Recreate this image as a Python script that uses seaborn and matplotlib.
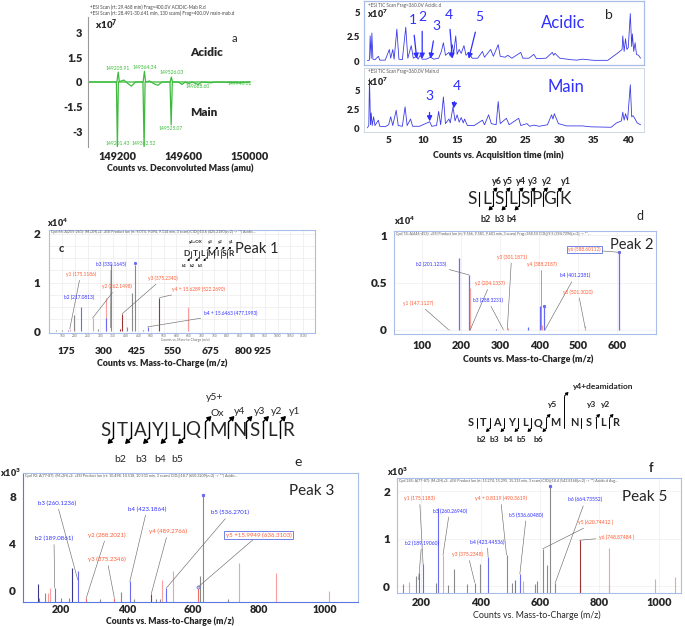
import numpy as np
import pandas as pd
import matplotlib
matplotlib.use("Agg")
import matplotlib.pyplot as plt
from matplotlib import font_manager
import seaborn as sns

# ---------------- data ----------------
# a: deconvoluted mass mirror plot (acidic up, main down)
a_acid_mass = [149024, 149198, 149206, 149213, 149356, 149364, 149371, 149519, 149526, 149533, 150000]
a_acid_int = [0, 0, 0.6, 0, 0, 0.65, 0, 0, 0.3, 0, 0]
a_main_mass = [149024, 149195, 149201, 149207, 149240, 149265, 149285, 149310, 149355, 149362, 149368,
               149395, 149420, 149445, 149470, 149518, 149525, 149532, 149570, 149590, 149610, 149630,
               149650, 149688, 149710, 149760, 149800, 149940, 150000]
a_main_int = [0, 0, -3.95, 0, 0.12, -0.1, -0.25, 0, 0, -3.95, 0,
              0.06, -0.1, -0.2, 0, 0, -2.6, 0, 0, -0.15, 0, -0.1,
              0, -0.15, 0, -0.05, 0, -0.05, 0]
a_up_labels = ["149205.91", "149364.34", "149526.03"]
a_up_mass = [149206, 149364, 149526]
a_dn_labels = ["149201.43", "149362.52", "149525.07", "149688.60", "149940.62"]
a_dn_mass = [149201, 149362, 149525, 149688, 149940]
a_yticks = [-3, -1.5, 0, 1.5, 3]
a_xticks = [149200, 149600, 150000]

# b: total ion chromatograms (x10^7)
b_acid_t = [1.9, 2.2, 2.3, 2.45, 2.55, 2.7, 3.0, 3.5, 3.7, 4.5, 5.1, 5.3, 5.6, 5.8, 6.2, 6.5, 7.0, 7.5, 7.8,
            8.3, 8.6, 9.1, 9.3, 9.6, 9.9, 10.5, 11.1, 11.6, 12.3, 12.7, 13.0, 13.3, 13.8, 14.0, 14.3, 14.5,
            14.8, 15.0, 15.3, 15.6, 16.0, 16.3, 16.7, 17.2, 18.0, 18.7, 19.0, 19.9, 20.3, 21.0, 21.3, 22.0,
            22.4, 23.0, 24.3, 24.6, 25.5, 26.2, 26.6, 28.0, 28.9, 29.1, 29.3, 30.0, 31.6, 32.5, 33.3, 34.0,
            35.0, 37.0, 38.4, 39.1, 39.2, 39.4, 39.6, 39.8, 40.0, 40.3, 40.5, 40.6, 40.8, 41.0, 41.2, 41.5, 41.8]
b_acid_i = [0.05, 0.1, 2.6, 0.3, 2.9, 0.2, 0.15, 0.5, 0.1, 0.1, 1.2, 0.3, 1.2, 0.2, 3.3, 0.2, 0.15, 3.5, 0.3,
            1.6, 0.3, 0.5, 0.2, 0.6, 0.2, 0.2, 0.4, 0.2, 0.3, 1.0, 1.9, 0.6, 0.9, 0.5, 1.7, 0.8,
            2.6, 0.7, 1.2, 0.8, 1.6, 0.6, 0.9, 0.3, 0.3, 1.0, 0.4, 1.2, 0.5, 1.7, 0.5, 0.4,
            0.6, 0.3, 0.9, 0.3, 0.3, 0.7, 0.25, 0.3, 0.9, 0.6, 0.8, 0.3, 0.15, 0.1, 0.2, 0.15,
            0.08, 0.08, 0.8, 1.2, 2.6, 1.0, 2.3, 1.2, 1.4, 4.9, 1.5, 2.8, 1.0, 1.9, 0.7, 0.6, 0.3]
b_main_t = [1.9, 2.1, 2.2, 2.35, 2.45, 2.6, 2.8, 3.0, 3.5, 3.7, 4.5, 5.0, 5.3, 5.6, 6.1, 6.4, 7.0, 7.4, 7.7,
            8.2, 8.5, 9.5, 11.0, 11.3, 12.0, 12.3, 12.6, 13.0, 13.3, 13.8, 14.0, 14.4, 14.7, 15.0, 15.3,
            15.6, 15.9, 16.1, 16.5, 17.5, 18.7, 19.0, 19.6, 20.0, 20.7, 21.0, 21.3, 22.2, 22.6, 24.0, 24.3,
            25.2, 25.6, 26.2, 27.0, 28.2, 28.8, 29.0, 29.2, 29.8, 31.0, 33.3, 34.5, 37.5, 38.3, 39.0, 39.2,
            39.4, 39.6, 39.9, 40.3, 40.5, 40.7, 41.0, 41.3, 41.8]
b_main_i = [0.05, 0.35, 6.5, 0.45, 2.0, 0.35, 1.5, 0.35, 1.05, 0.25, 0.2, 0.45, 1.5, 0.35, 2.35, 0.35, 0.25, 2.8, 0.35,
            1.2, 0.25, 0.25, 0.85, 0.25, 0.35, 2.2, 0.45, 4.1, 0.6, 1.2, 0.7, 2.8, 0.95, 1.75, 0.8,
            1.4, 0.7, 1.2, 0.35, 0.35, 1.05, 0.45, 1.75, 0.6, 0.45, 3.5, 0.6, 1.3, 0.45, 1.3, 0.35,
            0.6, 0.25, 0.4, 0.25, 0.45, 1.75, 1.2, 1.9, 0.6, 0.3, 0.3, 0.18, 0.12, 0.7, 0.95, 2.1,
            1.05, 1.9, 1.05, 5.7, 1.5, 1.65, 1.2, 0.7, 0.45]
b_acid_marks = ["1", "2", "3", "4", "5"]
b_acid_mark_t = [9.1, 9.9, 11.1, 14.3, 16.7]
b_main_marks = ["3", "4"]
b_main_mark_t = [11.0, 14.5]
b_xticks = [5, 10, 15, 20, 25, 30, 35, 40]

# c: Peak 1 MS/MS (x10^4)
c_gray_mz = [126, 150, 195, 290, 340, 404, 426, 435]
c_gray_h = [0.03, 0.03, 0.33, 0.05, 1.38, 0.09, 0.78, 1.37]
c_lred_mz = [179, 269, 321, 646]
c_lred_h = [0.05, 0.27, 0.68, 0.49]
c_blue_mz = [173, 223, 323, 470, 486]
c_blue_h = [0.02, 0.5, 0.28, 0.02, 0.09]
c_dred_mz = [379, 386, 533]
c_dred_h = [0.04, 0.36, 0.69]
c_inner_ticks = list(range(150, 1101, 50))
c_big_tick_pos = [166, 313, 446, 586, 733, 866, 942]
c_big_tick_lab = ["175", "300", "425", "550", "675", "800", "925"]

# d: Peak 2 MS/MS (x10^4)
d_blue_mz = [194, 220, 288, 371, 402, 412, 605]
d_blue_h = [0.76, 0.58, 0.01, 0.03, 0.25, 0.25, 0.82]
d_red_mz = [167, 222, 319, 406, 518]
d_red_h = [0.01, 0.44, 0.02, 0.05, 0.04]
d_xticks = [100, 200, 300, 400, 500, 600]

# e: Peak 3 MS/MS (x10^3)
e_gray_mz = [134, 151, 199, 224, 318, 380, 422, 488, 498, 621, 629, 705]
e_gray_h = [0.3, 0.8, 0.35, 0.35, 0.25, 0.85, 0.25, 0.25, 0.25, 2.2, 9.1, 0.25]
e_navy_mz = [128, 232]
e_navy_h = [1.5, 2.9]
e_blue_mz = [180, 250, 408, 519]
e_blue_h = [1.2, 2.6, 1.75, 1.2]
e_lred_mz = [161, 166, 505, 539, 740, 852, 1011]
e_lred_h = [0.8, 1.2, 1.85, 2.65, 3.3, 2.5, 0.9]
e_red_mz = [276, 361, 616]
e_red_h = [0.35, 0.35, 1.2]
e_dred_mz = [473]
e_dred_h = [0.7]
e_ytick_pos = [0.94, 4.94, 8.94]
e_ytick_lab = ["0", "4", "8"]
e_xticks = [200, 400, 600, 800, 1000]

# f: Peak 5 MS/MS (x10^3)
f_gray_mz = [138, 181, 251, 290, 309, 354, 380, 399, 487, 504, 583, 589, 609, 622, 632, 651, 733, 834]
f_gray_h = [0.18, 0.35, 0.21, 0.16, 0.51, 0.19, 0.22, 0.6, 0.8, 0.2, 0.18, 0.25, 0.93, 0.58, 2.25, 0.21, 0.23, 0.16]
f_lred_mz = [157, 273, 544, 834, 989, 1056]
f_lred_h = [0.23, 0.8, 0.25, 0.95, 0.3, 0.34]
f_blue_mz = [191, 206, 257, 425, 515, 532]
f_blue_h = [0.43, 0.62, 1.79, 0.76, 0.28, 0.4]
f_dred_mz = [733]
f_dred_h = [1.11]
f_ytick_pos = [0.14, 1.14, 2.14]
f_ytick_lab = ["0", "1", "2"]
f_xticks = [200, 400, 600, 800, 1000]

# peptide sequences
seq_c = list("DTLMISR")
seq_d = list("SLSLSPGK")
seq_e = list("STAYLQMNSLR")
seq_f = list("STAYLQMNSLR")

# ---------------- style ----------------
sns.set_style("white")


def has_bold(name):
    for f in font_manager.fontManager.ttflist:
        if f.name != name:
            continue
        w = f.weight
        if isinstance(w, str):
            w = font_manager.weight_dict.get(w, 400)
        if w >= 600:
            return True
    return False


family = "DejaVu Sans"
for cand in ["Lato", "Roboto", "Noto Sans", "Open Sans", "Liberation Sans"]:
    if has_bold(cand):
        family = cand
        break
plt.rcParams["font.family"] = [family, "DejaVu Sans"]
plt.rcParams["mathtext.default"] = "regular"

GREEN = "#3dbb3d"
TIC = "#3c3ce6"
BTXT = "#2f2fff"
RTXT = "#ff5a32"
GRAY = "#8a8a8a"
LRED = "#f7a0a0"
BBAR = "#6a6af2"
DRED = "#a03535"
NAVY = "#3a3a8c"
FRAME = "#a8bde8"
LINE = "#6f6f6f"
TW = "heavy"   # weight of the big tick labels

W, H = 685, 626
fig = plt.figure(figsize=(W / 100, H / 100), dpi=100)
over = fig.add_axes([0, 0, 1, 1], zorder=10)
over.set_xlim(0, W)
over.set_ylim(H, 0)
over.axis("off")
over.patch.set_alpha(0)


def add_ax(l, t, r, b):
    return fig.add_axes([l / W, 1 - b / H, (r - l) / W, (b - t) / H])


def ftext(x, y, s, **kw):
    kw.setdefault("ha", "center")
    kw.setdefault("va", "center")
    over.text(x, y, s, **kw)


def sticks(ax, mz, h, color, lw=0.8):
    ax.vlines(mz, 0, h, color=color, lw=lw)


def frame(ax, color=FRAME, lw=0.8):
    for s in ax.spines.values():
        s.set_visible(True)
        s.set_color(color)
        s.set_linewidth(lw)


def lab(ax, s, xy, xytext, color, fs, box=False):
    kw = dict(arrowprops=dict(arrowstyle="-", color=LINE, lw=0.45, shrinkA=0, shrinkB=0))
    if box:
        kw["bbox"] = dict(boxstyle="square,pad=0.25", fc="white", ec="#5a6ee0", lw=0.6)
    ax.annotate(s, xy=xy, xytext=xytext, color=color, fontsize=fs, ha="center", va="center", **kw)


def frag_arrow(x0, y0, dx, dy, lw, hw):
    over.annotate("", xy=(x0 + dx, y0 + dy), xytext=(x0, y0),
                  arrowprops=dict(arrowstyle=f"-|>,head_width={hw},head_length={hw * 1.6}",
                                  color="black", lw=lw, shrinkA=0, shrinkB=0))


def sequence(letters, xs, y, fs, hh, b_idx, y_idx, d, lw=0.8, hw=0.12, weight="normal", tall=None):
    for ch, x in zip(letters, xs):
        ftext(x, y, ch, fontsize=fs, fontweight=weight)
    seps = [(xs[i] + xs[i + 1]) / 2 for i in range(len(xs) - 1)]
    for i, sx in enumerate(seps):
        top = y - hh
        if tall is not None and i == tall[0]:
            top = tall[1]
        over.plot([sx, sx], [top, y + hh], color="black", lw=lw)
        if i in b_idx:
            frag_arrow(sx, y + hh, -d, d, lw, hw)
        if i in y_idx:
            frag_arrow(sx, top, d, -d, lw, hw)


bold = dict(fontweight="bold")

# ---------------- panel a ----------------
ax = add_ax(88, 17, 250, 147)
sns.lineplot(x=a_main_mass, y=a_main_int, ax=ax, color=GREEN, lw=0.9)
sns.lineplot(x=a_acid_mass, y=a_acid_int, ax=ax, color=GREEN, lw=0.9)
ax.set_xlim(149024, 150000)
ax.set_ylim(-3.95, 3.95)
for s in ["top", "right", "bottom"]:
    ax.spines[s].set_visible(False)
ax.spines["left"].set_color("#9a9a9a")
ax.set_yticks(a_yticks)
ax.set_yticklabels([f"{v:g}" for v in a_yticks], fontsize=7.8, fontweight=TW)
ax.set_xticks(a_xticks)
ax.set_xticklabels([str(v) for v in a_xticks], fontsize=7.8, fontweight=TW)
ax.tick_params(axis="both", length=0, pad=4)
ax.tick_params(axis="x", pad=3)
for s, m, y in zip(a_up_labels, a_up_mass, [0.85, 0.9, 0.55]):
    ax.text(m, y, s, color=GREEN, fontsize=3.6, ha="center", va="center")
for s, m, y in zip(a_dn_labels, a_dn_mass, [-3.75, -3.75, -2.8, -0.3, -0.1]):
    ax.text(m, y, s, color=GREEN, fontsize=3.6, ha="center", va="center")
ftext(90, 7, "+ESI Scan (rt: 29.468 min) Frag=400.0V ACIDIC-Mab R.d", fontsize=3.3, ha="left", color="#444444")
ftext(90, 13, "+ESI Scan (rt: 28.491-30.641 min, 130 scans) Frag=400.0V main-mab.d", fontsize=3.3, ha="left", color="#444444")
ftext(95, 25, "x10$^{7}$", fontsize=7, ha="left", fontweight=TW)
ftext(234, 39, "a", fontsize=8)
ftext(207, 52, "Acidic", fontsize=8.5, fontweight=TW)
ftext(204, 112, "Main", fontsize=8.5, fontweight=TW)
ftext(180, 169, "Counts vs. Deconvoluted Mass (amu)", fontsize=6.4, fontweight=TW)

# ---------------- panel b ----------------
axu = add_ax(364, 1, 644, 65)
axl = add_ax(364, 68, 644, 132)
sns.lineplot(x=b_acid_t, y=b_acid_i, ax=axu, color=TIC, lw=0.6)
sns.lineplot(x=b_main_t, y=b_main_i, ax=axl, color=TIC, lw=0.6)
for a_ in [axu, axl]:
    a_.set_xlim(1.4, 42.3)
    a_.set_yticks([0, 2.5, 5])
    a_.set_yticklabels(["0", "2.5", "5"], fontsize=6.8, fontweight=TW)
    a_.tick_params(length=0, pad=3)
axu.set_ylim(-0.4, 6.2)
axl.set_ylim(-0.5, 7.9)
frame(axu, FRAME, 0.9)
frame(axl, "#d0d6e2", 0.7)
axu.set_xticks([])
axl.set_xticks(b_xticks)
axl.set_xticklabels([str(v) for v in b_xticks], fontsize=7.2, fontweight=TW)
axl.tick_params(axis="x", pad=3)
arr = dict(arrowstyle="-|>,head_width=0.15,head_length=0.3", color=BTXT, lw=0.9, shrinkB=0)
for s, t, (tx, ty) in zip(b_acid_marks, b_acid_mark_t, [(8.5, 4.2), (9.9, 4.6), (11.9, 3.6), (13.8, 4.8), (18.2, 4.5)]):
    axu.annotate(s, xy=(t, 0.25), xytext=(tx, ty), color=BTXT, fontsize=10, ha="center", va="center",
                 arrowprops=dict(arr, shrinkA=4))
for s, t, (tx, ty), h in zip(b_main_marks, b_main_mark_t, [(10.9, 4.2), (14.9, 5.6)], [0.9, 2.6]):
    axl.annotate(s, xy=(t, h), xytext=(tx, ty), color=BTXT, fontsize=10, ha="center", va="center",
                 arrowprops=dict(arr, shrinkA=5))
ftext(368, 5, "+ESI TIC Scan Frag=360.0V Acidic.d", fontsize=3.3, ha="left", color="#555555")
ftext(368, 72, "+ESI TIC Scan Frag=360.0V Main.d", fontsize=3.3, ha="left", color="#555555")
ftext(367, 14, "x10$^{7}$", fontsize=6.5, ha="left", fontweight=TW)
ftext(367, 82, "x10$^{7}$", fontsize=6.5, ha="left", fontweight=TW)
ftext(563, 23, "Acidic", fontsize=12, color=BTXT)
ftext(566, 87, "Main", fontsize=12, color=BTXT)
ftext(609, 15, "b", fontsize=10)
ftext(498, 155, "Counts vs. Acquisition time (min)", fontsize=6.4, fontweight=TW)

# ---------------- panel c ----------------
ax = add_ax(49, 230, 315, 333)
sticks(ax, c_gray_mz, c_gray_h, GRAY)
sticks(ax, c_lred_mz, c_lred_h, LRED)
sticks(ax, c_blue_mz, c_blue_h, BBAR)
sticks(ax, c_dred_mz, c_dred_h, DRED)
ax.plot([435], [1.4], "o", ms=1.3, color=BBAR)
ax.set_xlim(97, 1147)
ax.set_ylim(-0.035, 2.08)
frame(ax)
ax.set_xticks(c_inner_ticks)
ax.set_xticklabels([str(v) for v in c_inner_ticks], fontsize=2.3, color="#666666")
ax.set_xticks(c_big_tick_pos, minor=True)
ax.set_xticklabels(c_big_tick_lab, minor=True, fontsize=7.4, fontweight=TW)
ax.tick_params(axis="x", which="major", length=0, pad=1)
ax.tick_params(axis="x", which="minor", length=0, pad=10)
ax.set_yticks([0, 1, 2])
ax.set_yticklabels(["0", "1", "2"], fontsize=8.5, fontweight=TW)
ax.tick_params(axis="y", length=0, pad=6)
ax.grid(True, axis="x", color="#ececec", lw=0.5)
for yy in np.arange(0.25, 2.1, 0.25):
    ax.axhline(yy, color="#ececec", lw=0.5, zorder=0)
lab(ax, "y1 (175.1186)", (179, 0.05), (222, 1.17), RTXT, 3.4)
lab(ax, "b3 (330.1645)", (340, 0.07), (342, 1.375), BTXT, 3.4)
ax.text(217, 0.69, "b2 (217.0813)", color=BTXT, fontsize=3.4, ha="center", va="center")
lab(ax, "y2 (262.1498)", (269, 0.27), (366, 0.92), RTXT, 3.4)
lab(ax, "y3 (375.2340)", (386, 0.36), (546, 1.09), RTXT, 3.4)
lab(ax, "y4 + 15.6289 (522.2690)", (533, 0.69), (686, 0.87), RTXT, 3.4)
lab(ax, "b4 + 15.6463 (477.1993)", (486, 0.09), (814, 0.37), BTXT, 3.4)
ax.text(105, 2.03, "Cpd 66: A(255-261): (M+2H)+2: +ESI Product Ion (rt: 9.074, 9.094, 9.114 min, 3 scans) "
        "CID@10.6 (425.2180[z=2] -> **) Acidic...", fontsize=2.6, color="#555555", va="center")
ftext(185, 340, "Counts vs. Mass-to-Charge (m/z)", fontsize=2.4, color="#666666")
ftext(47, 223, "x10$^{4}$", fontsize=6.5, ha="left", fontweight=TW)
ftext(61, 248, "c", fontsize=8, **bold)
ftext(257, 249, "Peak 1", fontsize=10.5)
sequence(seq_c, [187, 195, 203, 211, 218, 224, 231], 254, 6, 3.5, [0, 1, 2], [2, 3, 4, 5], 3.5, lw=0.5, hw=0.06, weight="bold")
for s, x in zip(["y4+OX", "y3", "y2", "y1"], [196, 210, 220, 231]):
    ftext(x, 242, s, fontsize=3.2, **bold)
for s, x in zip(["b1", "b2", "b3"], [184, 192, 200]):
    ftext(x, 266, s, fontsize=3.2, **bold)
ftext(162, 363, "Counts vs. Mass-to-Charge (m/z)", fontsize=6.4, fontweight=TW)

# ---------------- panel d ----------------
ax = add_ax(394, 231, 656, 334)
sticks(ax, d_blue_mz, d_blue_h, BBAR, lw=0.9)
sticks(ax, d_red_mz, d_red_h, LRED, lw=0.9)
ax.plot([412], [0.25], "s", ms=1.2, color=BBAR)
ax.plot([605], [0.82], "s", ms=1.2, color=BBAR)
ax.set_xlim(27, 700)
ax.set_ylim(-0.046, 1.046)
frame(ax)
ax.set_xticks(d_xticks)
ax.set_xticklabels([str(v) for v in d_xticks], fontsize=7.8, fontweight=TW)
ax.set_yticks([0, 0.5, 1])
ax.set_yticklabels(["0", "0.5", "1"], fontsize=8.5, fontweight=TW)
ax.tick_params(length=0, pad=5)
ax.tick_params(axis="x", pad=4)
ax.grid(True, color="#eeeeee", lw=0.5)
lab(ax, "b2 (201.1233)", (220, 0.58), (122, 0.69), BTXT, 3.4)
lab(ax, "y3 (301.1871)", (318, 0.0), (329, 0.77), RTXT, 3.4)
lab(ax, "y4 (388.2187)", (406, 0.0), (406, 0.69), RTXT, 3.4)
lab(ax, "y2 (204.1337)", (223, 0.0), (274, 0.49), RTXT, 3.4)
lab(ax, "b4 (401.2381)", (415, 0.0), (492, 0.57), BTXT, 3.4)
lab(ax, "y1 (147.1127)", (167, 0.0), (90, 0.28), RTXT, 3.4)
lab(ax, "b3 (288.3231)", (308, 0.0), (268, 0.31), BTXT, 3.4)
lab(ax, "y5 (501.3020)", (518, 0.02), (500, 0.40), RTXT, 3.4)
lab(ax, "y6 (588.60112)", (605, 0.82), (516, 0.85), RTXT, 3.4, box=True)
ax.text(32, 1.015, "Cpd 74: A(446-453): +ESI Product Ion (rt: 9.566, 9.581, 9.601 min, 3 scans) Frag=368.5V "
        "CID@9.5 (394.7296[z=2] -> **...", fontsize=2.6, color="#555555", va="center")
ftext(394, 221, "x10$^{4}$", fontsize=6.5, ha="left", fontweight=TW)
ftext(640, 216, "d", fontsize=9)
ftext(632, 245, "Peak 2", fontsize=10.5)
sequence(seq_d, [472, 487, 499, 513, 525, 537, 550, 565], 199, 12.5, 7, [1, 2, 3], [1, 2, 3, 4, 5, 6], 4.5)
for s, x in zip(["y6", "y5", "y4", "y3", "y2", "y1"], [497, 508, 521, 533, 547, 566]):
    ftext(x, 182, s, fontsize=6.5, **bold)
for s, x in zip(["b2", "b3", "b4"], [486, 500, 512]):
    ftext(x, 219, s, fontsize=6.5, **bold)
ftext(528, 359, "Counts vs. Mass-to-Charge (m/z)", fontsize=6.4, fontweight=TW)

# ---------------- panel e ----------------
ax = add_ax(23, 473, 358, 602)
sticks(ax, e_gray_mz, e_gray_h, GRAY)
sticks(ax, e_navy_mz, e_navy_h, NAVY)
sticks(ax, e_blue_mz, e_blue_h, BBAR)
sticks(ax, e_lred_mz, e_lred_h, LRED)
sticks(ax, e_red_mz, e_red_h, "#f07060")
sticks(ax, e_dred_mz, e_dred_h, DRED)
ax.plot([629], [9.1], "s", ms=1.3, color=BBAR)
ax.plot([616], [1.25], "o", ms=2.2, mfc="#c8d0ff", mec=BBAR, mew=0.5)
ax.set_xlim(84, 1100)
ax.set_ylim(0, 10.98)
frame(ax)
ax.spines["left"].set_color("#5a78e0")
ax.spines["bottom"].set_color("#5a78e0")
ax.set_xticks(e_xticks)
ax.set_xticklabels([str(v) for v in e_xticks], fontsize=7.6, fontweight=TW)
ax.set_yticks(e_ytick_pos)
ax.set_yticklabels(e_ytick_lab, fontsize=8.5, fontweight=TW)
ax.tick_params(length=0, pad=5)
ax.tick_params(axis="x", pad=1.5)
ax.set_yticks(np.arange(0.94, 10.9, 1.0), minor=True)
ax.tick_params(axis="y", which="minor", direction="in", length=2, color="#5a78e0")
lab(ax, "b3 (260.1236)", (250, 1.9), (187, 8.4), BTXT, 4.4)
lab(ax, "b2 (189.0861)", (180, 1.2), (178, 5.4), BTXT, 4.4)
lab(ax, "y2 (288.2021)", (276, 0.35), (337, 5.7), RTXT, 4.4)
lab(ax, "b4 (423.1864)", (408, 1.75), (460, 7.9), BTXT, 4.4)
lab(ax, "y4 (489.2766)", (473, 0.7), (524, 6.0), RTXT, 4.4)
lab(ax, "y3 (375.2346)", (361, 0.35), (339, 3.6), RTXT, 4.4)
lab(ax, "b5 (536.2701)", (519, 1.2), (713, 7.6), BTXT, 4.4)
lab(ax, "y5 +15.9949 (636.3103)", (616, 1.3), (798, 5.7), RTXT, 4.4, box=True)
ax.text(90, 10.7, "Cpd 92: A(77-87): (M+2H)+2: +ESI Product Ion (rt: 10.498, 10.518, 10.533 min, 3 scans) "
        "CID@18.7 (650.3209[z=2] -> **) Acidic...", fontsize=2.7, color="#555555", va="center")
ftext(0, 473, "x10$^{3}$", fontsize=6.5, ha="left", fontweight=TW)
ftext(298, 462, "e", fontsize=10)
ftext(312, 491, "Peak 3", fontsize=11)
sequence(seq_e, [105, 122, 140, 158, 175, 193, 218, 239, 254, 272, 288], 430, 13.5, 8,
         [0, 1, 2, 3, 4], [5, 6, 7, 8, 9], 6, lw=1.0, hw=0.15)
ftext(215, 398, "y5+", fontsize=7.5)
for s, x, y in zip(["Ox", "y4", "y3", "y2", "y1"], [217, 240, 260, 277, 295], [413, 412, 412, 411, 411]):
    ftext(x, y, s, fontsize=7.5)
for s, x in zip(["b2", "b3", "b4", "b5"], [120, 141, 160, 177]):
    ftext(x, 460, s, fontsize=7.5)
ftext(170, 621, "Counts vs. Mass-to-Charge (m/z)", fontsize=6.2, fontweight=TW)

# ---------------- panel f ----------------
ax = add_ax(397, 478, 681, 593)
sticks(ax, f_gray_mz, f_gray_h, GRAY)
sticks(ax, f_lred_mz, f_lred_h, LRED)
sticks(ax, f_blue_mz, f_blue_h, BBAR)
sticks(ax, f_dred_mz, f_dred_h, DRED)
ax.plot([632], [2.25], "s", ms=1.3, color=BBAR)
ax.set_xlim(118, 1075)
ax.set_ylim(0, 2.42)
frame(ax)
ax.set_xticks(f_xticks)
ax.set_xticklabels([str(v) for v in f_xticks], fontsize=7.8, fontweight=TW)
ax.set_yticks(f_ytick_pos)
ax.set_yticklabels(f_ytick_lab, fontsize=8.5, fontweight=TW)
ax.tick_params(length=0, pad=5)
ax.tick_params(axis="x", pad=3)
ax.grid(True, color="#eeeeee", lw=0.5)
lab(ax, "y1 (175.1183)", (206, 0.6), (194, 1.99), RTXT, 3.6)
lab(ax, "b3 (260.26940)", (273, 0.8), (295, 1.72), BTXT, 3.6)
lab(ax, "y4 + 0.8119 (490.3619)", (487, 0.8), (467, 1.99), RTXT, 3.6)
lab(ax, "b6 (664.73552)", (651, 0.21), (753, 1.96), BTXT, 3.6)
lab(ax, "b5 (536.60480)", (532, 0.4), (554, 1.64), BTXT, 3.6)
lab(ax, "y5 (620.74412 )", (609, 0.93), (787, 1.49), RTXT, 3.6)
lab(ax, "b2 (189.19060)", (191, 0.28), (201, 1.05), BTXT, 3.6)
lab(ax, "b4 (423.44536)", (425, 0.76), (422, 1.07), BTXT, 3.6)
lab(ax, "y3 (375.2348)", (380, 0.22), (357, 0.81), RTXT, 3.6)
lab(ax, "y6 (748.87484 )", (733, 1.11), (858, 1.18), RTXT, 3.6)
ax.text(124, 2.35, "Cpd 245: A(77-87): (M+2H)+2: +ESI Product Ion (rt: 15.274, 15.295, 15.315 min, 3 scans) "
        "CID@18.4 (542.8168[z=2] -> **) Acidic.d Avg...", fontsize=2.6, color="#555555", va="center")
ftext(387, 472, "x10$^{3}$", fontsize=6.5, ha="left", fontweight=TW)
ftext(651, 468, "f", fontsize=9, **bold)
ftext(645, 497, "Peak 5", fontsize=11)
sequence(seq_f, [471, 483, 497, 512, 525, 538, 555, 574, 589, 603, 616], 423, 7.8, 5,
         [1, 2, 3, 4, 5], [5, 6, 8, 9], 4, lw=0.7, hw=0.1, weight="bold", tall=(6, 396))
ftext(603, 387, "y4+deamidation", fontsize=6, **bold)
for s, x in zip(["y5", "y3", "y2"], [553, 592, 606]):
    ftext(x, 405, s, fontsize=6, **bold)
for s, x in zip(["b2", "b3", "b4", "b5", "b6"], [481, 494, 508, 521, 538]):
    ftext(x, 439, s, fontsize=6, **bold)
ftext(537, 615, "Counts vs. Mass-to-Charge (m/z)", fontsize=6.4)

fig.savefig("out.png", dpi=100)
